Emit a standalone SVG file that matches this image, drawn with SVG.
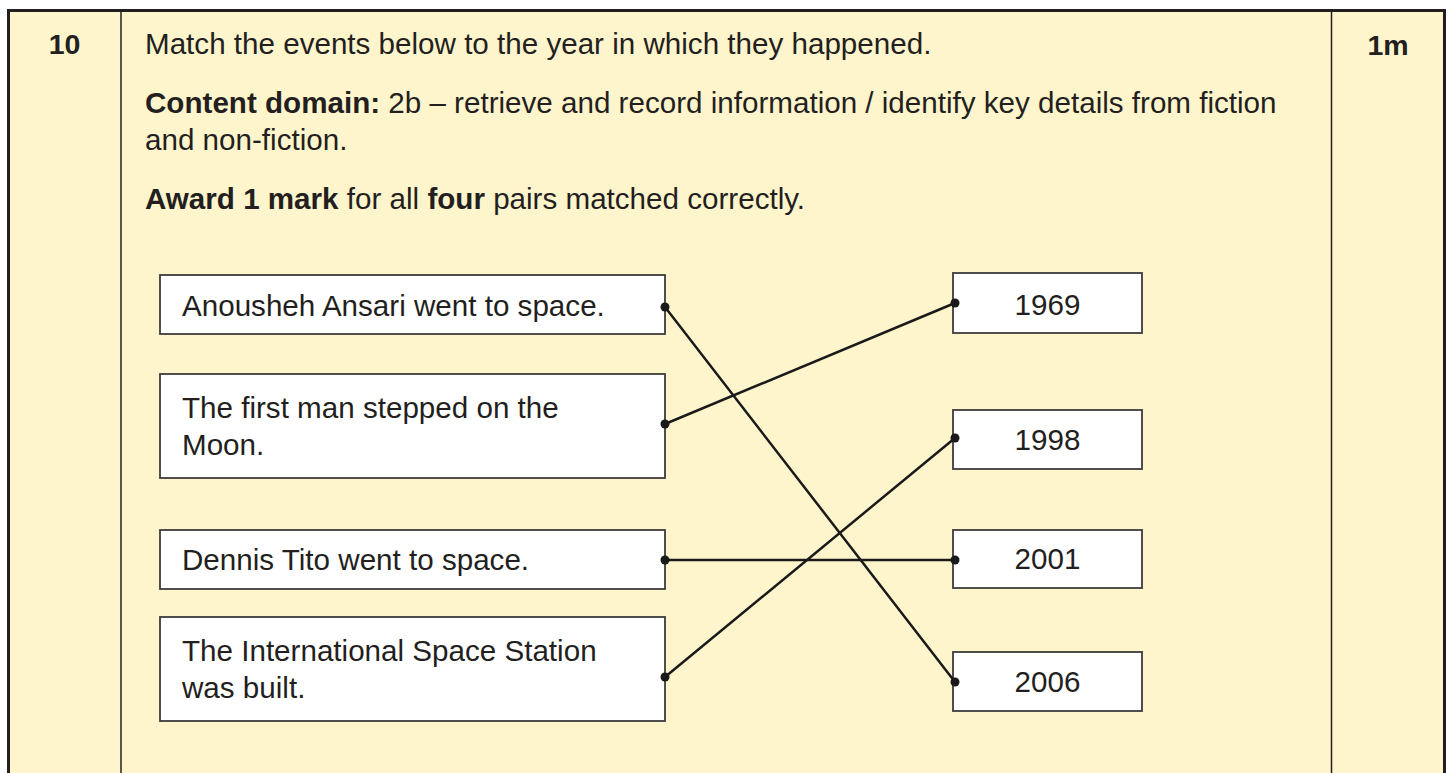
<svg xmlns="http://www.w3.org/2000/svg" width="1451" height="773" viewBox="0 0 1451 773">
<style>
  text { font-family: "Liberation Sans", Arial, sans-serif; font-size: 29.6px; fill: #231f20; }
  .b { font-weight: bold; }
  .num { font-size: 28.5px; }
  .box { fill: #ffffff; stroke: #3c3c3c; stroke-width: 1.8; }
  .yr { text-anchor: middle; }
  .conn line { stroke: #1a1a1a; stroke-width: 2.5; stroke-linecap: round; }
  .conn circle { fill: #1a1a1a; }
</style>
<rect x="0" y="0" width="1451" height="773" fill="#ffffff"/>
<g id="table">
  <rect x="8.5" y="10.5" width="1435" height="770" fill="#fff5cc" stroke="none"/>
  <line x1="7" y1="10.5" x2="1446" y2="10.5" stroke="#231f20" stroke-width="3"/>
  <line x1="8.5" y1="9" x2="8.5" y2="773" stroke="#231f20" stroke-width="3"/>
  <line x1="1444.5" y1="9" x2="1444.5" y2="773" stroke="#231f20" stroke-width="3"/>
  <line x1="121" y1="10" x2="121" y2="773" stroke="#231f20" stroke-width="1.5"/>
  <line x1="1331.5" y1="10" x2="1331.5" y2="773" stroke="#231f20" stroke-width="1.5"/>
  <text class="b num" x="64.5" y="54" text-anchor="middle">10</text>
  <text class="b num" x="1388" y="55" text-anchor="middle">1m</text>
  <text x="145" y="54">Match the events below to the year in which they happened.</text>
  <text x="145" y="113"><tspan class="b">Content domain:</tspan> 2b – retrieve and record information / identify key details from fiction</text>
  <text x="145" y="150">and non-fiction.</text>
  <text x="145" y="209"><tspan class="b">Award 1 mark</tspan> for all <tspan class="b">four</tspan> pairs matched correctly.</text>
</g>
<g id="event-anousheh">
  <rect class="box" x="160" y="275" width="505" height="59"/>
  <text x="182" y="315.5">Anousheh Ansari went to space.</text>
</g>
<g id="event-moon">
  <rect class="box" x="160" y="374" width="505" height="104"/>
  <text x="182" y="417.5">The first man stepped on the</text>
  <text x="182" y="454.5">Moon.</text>
</g>
<g id="event-tito">
  <rect class="box" x="160" y="530" width="505" height="59"/>
  <text x="182" y="570">Dennis Tito went to space.</text>
</g>
<g id="event-iss">
  <rect class="box" x="160" y="617" width="505" height="104"/>
  <text x="182" y="660.5">The International Space Station</text>
  <text x="182" y="697.5">was built.</text>
</g>
<g id="year-1969">
  <rect class="box" x="953" y="273" width="189" height="60"/>
  <text class="yr" x="1047.5" y="315">1969</text>
</g>
<g id="year-1998">
  <rect class="box" x="953" y="410" width="189" height="59"/>
  <text class="yr" x="1047.5" y="450">1998</text>
</g>
<g id="year-2001">
  <rect class="box" x="953" y="530" width="189" height="58"/>
  <text class="yr" x="1047.5" y="569">2001</text>
</g>
<g id="year-2006">
  <rect class="box" x="953" y="652" width="189" height="59"/>
  <text class="yr" x="1047.5" y="692">2006</text>
</g>
<g id="connectors" class="conn">
  <line x1="665" y1="307" x2="955" y2="682"/>
  <line x1="665" y1="424" x2="955" y2="303"/>
  <line x1="665" y1="560" x2="955" y2="560"/>
  <line x1="665" y1="677" x2="955" y2="438"/>
  <circle cx="665" cy="307" r="4.5"/>
  <circle cx="665" cy="424" r="4.5"/>
  <circle cx="665" cy="560" r="4.5"/>
  <circle cx="665" cy="677" r="4.5"/>
  <circle cx="955" cy="303" r="4.5"/>
  <circle cx="955" cy="438" r="4.5"/>
  <circle cx="955" cy="560" r="4.5"/>
  <circle cx="955" cy="682" r="4.5"/>
</g>
</svg>
